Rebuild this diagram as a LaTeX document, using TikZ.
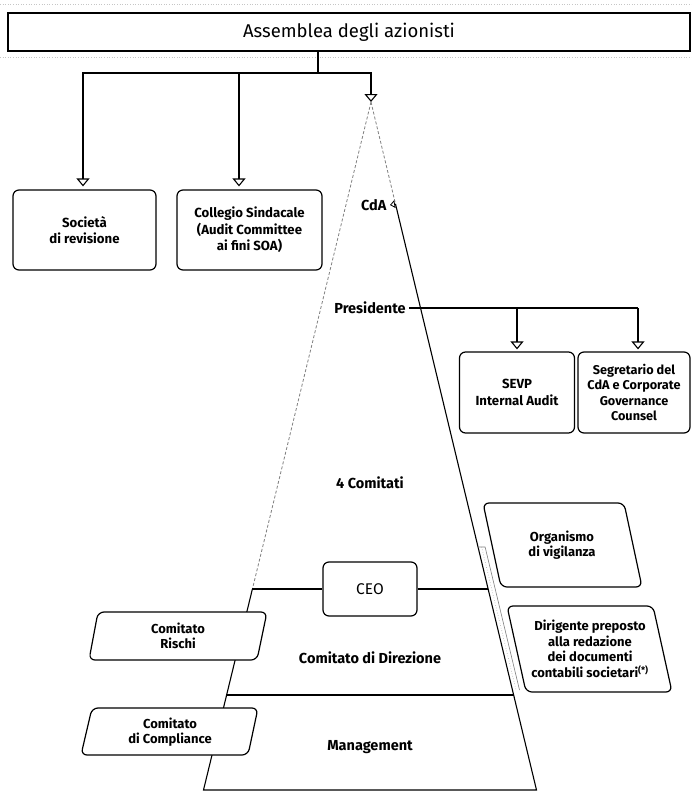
\documentclass[tikz,border=0pt]{standalone}
\usepackage{fontspec}
\setmainfont{Fira Sans}
\usetikzlibrary{arrows.meta,calc}
\begin{document}
\begin{tikzpicture}[x=1pt,y=-1pt,
  box/.style={draw,line width=1.2pt,rounded corners=6pt,fill=white,align=center,
    font=\fontsize{13.2}{16.5}\selectfont\bfseries,inner sep=0pt},
  slbox/.style={draw,line width=1.2pt,rounded corners=6pt,fill=white},
  boxtext/.style={align=center,font=\fontsize{13}{15.5}\selectfont\bfseries},
  lvl/.style={font=\fontsize{14.5}{17}\selectfont\bfseries},
  conn/.style={line width=1.1pt},
  arr/.style={conn,-{Triangle[open,width=13pt,length=8pt,line width=1.1pt]}},
  ghost/.style={gray,line width=0.8pt,dash pattern=on 3pt off 2pt},
  faint/.style={gray!45,line width=0.6pt,dotted},
]
\useasboundingbox[fill=white] (0,0) rectangle (692,792);

% faint rules above and below the shareholders' box
\draw[faint] (0,4) -- (692,4);
\draw[faint] (0,57) -- (692,57);

% shareholders' meeting
\node[box,line width=1.8pt,rounded corners=0pt,minimum width=682pt,minimum height=38pt,
  font=\fontsize{18.5}{22}\selectfont] (asm) at (349,32) {Assemblea degli azionisti};

% control bodies
\node[box,minimum width=143pt,minimum height=80pt] (soc) at (84.5,230) {Società\\di revisione};
\node[box,minimum width=145pt,minimum height=80pt] (col) at (249.5,230) {Collegio Sindacale\\(Audit Committee\\ai fini SOA)};

% pyramid geometry
\coordinate (split) at (318,73);
\coordinate (apex) at (371,102);
\coordinate (cdaE) at (395.5,204);
\coordinate (ceoL) at (252.4,589);
\coordinate (ceoR) at (488.2,589);
\coordinate (mgL) at (226.6,695);
\coordinate (mgR) at (513.7,695);
\coordinate (bl) at (203.5,790);
\coordinate (br) at (536.5,790);

% links from the shareholders' meeting
\draw[conn] (asm.south -| split) -- (split);
\draw[arr,shorten >=3pt] (split) -| ([xshift=-1.5pt]soc.north);
\draw[arr,shorten >=3pt] (split) -| ([xshift=-10.5pt]col.north);
\draw[arr] (split) -| (apex);

% pyramid outline
\draw[ghost] (apex) -- (ceoL);
\draw[ghost] (apex) -- (cdaE);
\draw[conn] (cdaE) -- (br) -- (bl) -- (ceoL);
\draw[conn] (mgL) -- (mgR);

% thin rule along the right side of the pyramid
\draw[gray,line width=0.6pt] (478.1,547) -- (485.1,547) -- (519.5,690);
\draw[gray!70,line width=0.6pt,dotted] (481.6,547) -- (516,690);

% board levels
\node[lvl,anchor=east] (cda) at (390,205) {CdA};
\draw[line width=0.8pt,-{Triangle[open,width=8pt,length=5pt,line width=0.8pt]}] (cdaE) -- (cda.east);
\node[lvl] (pres) at (370,308) {Presidente};
\node[lvl] (com) at (370,483) {4 Comitati};
\node[box,minimum width=94pt,minimum height=54pt,font=\fontsize{15.5}{18}\selectfont] (ceo) at (370,589) {CEO};
\draw[conn] (ceoL) -- (ceo.west);
\draw[conn] (ceo.east) -- (ceoR);
\node[lvl] (dir) at (370,658) {Comitato di Direzione};
\node[lvl] (mgmt) at (370,747) {Management};

% functions reporting to the chairman
\node[box,minimum width=115pt,minimum height=81pt] (sevp) at (517,392.5) {SEVP\\Internal Audit};
\node[box,minimum width=112pt,minimum height=81pt,font=\fontsize{12.7}{15.5}\selectfont\bfseries] (segr) at (634,392.5)
  {Segretario del\\CdA e Corporate\\Governance\\Counsel};
\draw[conn] (pres.east) -- ([xshift=4pt]pres.east -| segr.north);
\draw[arr,shorten >=2pt] (pres.east -| sevp.north) -- (sevp.north);
\draw[arr,shorten >=2pt] ([xshift=4pt]pres.east -| segr.north) -- ([xshift=4pt]segr.north);

% management committees (left)
\draw[slbox] (98,612) -- (267,612) -- (257,660) -- (89,660) -- cycle;
\node[boxtext] (ris) at (178,636) {Comitato\\Rischi};
\draw[slbox] (92,708) -- (258,708) -- (248,755) -- (81,755) -- cycle;
\node[boxtext] (compl) at (170,732) {Comitato\\di Compliance};

% supervisory functions (right)
\draw[slbox] (483,503) -- (624,503) -- (642,587) -- (501,587) -- cycle;
\node[boxtext] (odv) at (562,545) {Organismo\\di vigilanza};
\draw[slbox] (507,606) -- (653,606) -- (672,692) -- (526,692) -- cycle;
\node[boxtext] (dirig) at (590,649) {Dirigente preposto\\alla redazione\\dei documenti\\contabili societari\textsuperscript{(*)}};
\end{tikzpicture}
\end{document}
